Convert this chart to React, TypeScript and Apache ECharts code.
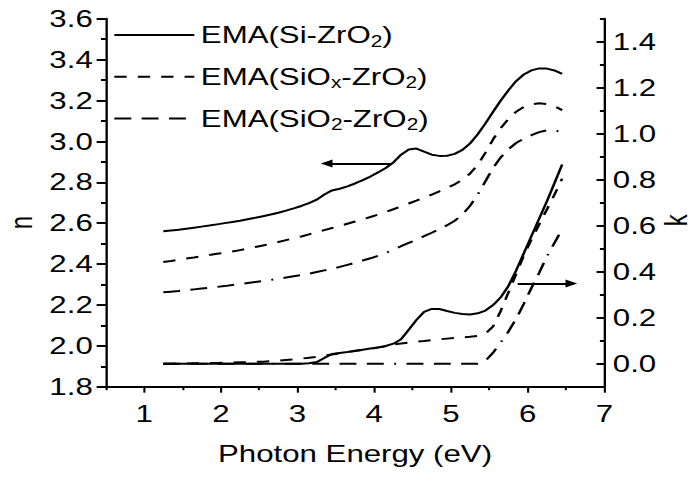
import React, { useEffect, useRef } from "react";
import * as echarts from "echarts";

// ---- data ----
const energy = [
  1.25, 1.35, 1.45, 1.55, 1.65, 1.75, 1.85, 1.95, 2.05, 2.15,
  2.25, 2.35, 2.45, 2.55, 2.65, 2.75, 2.85, 2.95, 3.05, 3.15,
  3.25, 3.35, 3.45, 3.55, 3.65, 3.75, 3.85, 3.95, 4.05, 4.15,
  4.25, 4.35, 4.45, 4.55, 4.65, 4.75, 4.85, 4.95, 5.05, 5.15,
  5.25, 5.35, 5.45, 5.55, 5.65, 5.75, 5.85, 5.95, 6.05, 6.15,
  6.25, 6.35, 6.45,
];

const nSi = [
  2.560, 2.564, 2.568, 2.573, 2.578, 2.583, 2.588, 2.594, 2.600, 2.606,
  2.612, 2.619, 2.626, 2.634, 2.642, 2.651, 2.661, 2.672, 2.684, 2.698,
  2.715, 2.740, 2.760, 2.768, 2.780, 2.794, 2.810, 2.828, 2.848, 2.870,
  2.897, 2.935, 2.960, 2.965, 2.950, 2.935, 2.929, 2.930, 2.939, 2.958,
  2.990, 3.035, 3.088, 3.145, 3.200, 3.250, 3.295, 3.327, 3.347, 3.357,
  3.356, 3.347, 3.330,
];

const nSiOx = [
  2.410, 2.415, 2.421, 2.427, 2.432, 2.438, 2.444, 2.450, 2.455, 2.461,
  2.468, 2.475, 2.483, 2.491, 2.499, 2.508, 2.517, 2.526, 2.535, 2.545,
  2.556, 2.566, 2.576, 2.586, 2.597, 2.608, 2.619, 2.630, 2.642, 2.655,
  2.668, 2.682, 2.696, 2.710, 2.725, 2.740, 2.756, 2.772, 2.790, 2.812,
  2.843, 2.885, 2.945, 3.010, 3.065, 3.110, 3.145, 3.168, 3.181, 3.186,
  3.183, 3.172, 3.153,
];

const nSiO2 = [
  2.262, 2.265, 2.268, 2.272, 2.276, 2.280, 2.284, 2.288, 2.292, 2.297,
  2.302, 2.307, 2.312, 2.317, 2.322, 2.328, 2.334, 2.340, 2.346, 2.353,
  2.361, 2.369, 2.377, 2.386, 2.396, 2.406, 2.417, 2.428, 2.440, 2.454,
  2.470, 2.487, 2.503, 2.519, 2.536, 2.553, 2.571, 2.590, 2.612, 2.642,
  2.685, 2.740, 2.805, 2.870, 2.922, 2.962, 2.992, 3.013, 3.030, 3.045,
  3.054, 3.053, 3.047,
];

const kSi = [
  0, 0, 0, 0, 0, 0, 0, 0, 0, 0,
  0, 0, 0, 0, 0, 0, 0, 0, 0, 0.002,
  0.007, 0.025, 0.042, 0.047, 0.051, 0.056, 0.061, 0.066, 0.071, 0.077,
  0.087, 0.106, 0.148, 0.190, 0.225, 0.238, 0.238, 0.229, 0.221, 0.216,
  0.214, 0.219, 0.231, 0.255, 0.289, 0.338, 0.405, 0.480, 0.555, 0.630,
  0.705, 0.785, 0.866,
];

const kSiOx = [
  0, 0, 0.001, 0.001, 0.002, 0.002, 0.003, 0.003, 0.004, 0.005,
  0.006, 0.007, 0.008, 0.009, 0.011, 0.013, 0.016, 0.019, 0.022, 0.026,
  0.030, 0.035, 0.040, 0.045, 0.050, 0.055, 0.060, 0.065, 0.070, 0.076,
  0.084, 0.088, 0.092, 0.096, 0.099, 0.103, 0.106, 0.109, 0.112, 0.114,
  0.117, 0.121, 0.130, 0.162, 0.230, 0.310, 0.390, 0.470, 0.540, 0.605,
  0.670, 0.735, 0.805,
];

const kSiO2 = [
  0, 0, 0, 0, 0, 0, 0, 0, 0, 0,
  0, 0, 0, 0, 0, 0, 0, 0, 0, 0,
  0, 0, 0, 0, 0, 0, 0, 0, 0, 0,
  0, 0, 0, 0, 0, 0, 0, 0, 0, 0,
  0, 0, 0.012, 0.048, 0.093, 0.140, 0.195, 0.260, 0.330, 0.395,
  0.465, 0.525, 0.585,
];

const legendNames = ["EMA(Si-ZrO2)", "EMA(SiOx-ZrO2)", "EMA(SiO2-ZrO2)"];

const xMajorTicks = [1, 2, 3, 4, 5, 6, 7];
const xMinorTicks = [0.5, 1.5, 2.5, 3.5, 4.5, 5.5, 6.5];
const kMajorTicks = [0, 0.2, 0.4, 0.6, 0.8, 1.0, 1.2, 1.4];
const kMinorTicks = [-0.1, 0.1, 0.3, 0.5, 0.7, 0.9, 1.1, 1.3, 1.5];

// annotation arrows: [from, to] in data coordinates
const nArrow = [[4.23, 2.892], [3.38, 2.892]];
const kArrow = [[5.87, 0.349], [6.57, 0.349]];

const FONT = "'Liberation Sans', Arial, Helvetica, sans-serif";
const CHART_W = 532;
const CHART_H = 481;
const STRETCH = 692 / CHART_W;

const pairs = (ys: number[]) => energy.map((e, i) => [e, ys[i]]);

const dashSiOx = [9.5, 8.5];
const dashSiO2 = [13, 8, 13, 8, 13, 8, 13, 8, 1.5, 8];

function arrowMarkLine(a: number[][]) {
  return {
    silent: true,
    symbol: ["none", "triangle"],
    symbolSize: [8, 9],
    label: { show: false },
    emphasis: { disabled: true },
    lineStyle: { color: "#000", width: 2, type: "solid" },
    data: [[{ coord: a[0] }, { coord: a[1] }]],
  };
}

export default function App() {
  const ref = useRef<HTMLDivElement>(null);

  useEffect(() => {
    if (!ref.current) return;
    const chart = echarts.init(ref.current, undefined, { renderer: "svg" });

    const tickLine = { color: "#000", width: 2 };

    const option: any = {
      animation: false,
      backgroundColor: "#fff",
      textStyle: { fontFamily: FONT, color: "#000" },
      grid: {
        left: 81.3,
        right: 67.4,
        top: 18.7,
        bottom: 94.3,
        containLabel: false,
        outerBoundsMode: "none",
      },
      legend: {
        data: legendNames,
        orient: "vertical",
        left: 86.9,
        top: 20,
        padding: 0,
        itemWidth: 61.5,
        itemHeight: 14,
        itemGap: 11.7,
        selectedMode: false,
        itemStyle: { opacity: 0 },
        formatter: (name: string) => name.replace(/O([x2])/g, "O{sub|$1}"),
        textStyle: {
          fontFamily: FONT,
          fontSize: 24,
          lineHeight: 30,
          color: "#000",
          rich: {
            sub: {
              fontFamily: FONT,
              fontSize: 16,
              padding: [12, 0, 0, 0],
              color: "#000",
            },
          },
        },
      },
      xAxis: [
        {
          type: "value",
          min: 0.5,
          max: 7,
          position: "bottom",
          name: "Photon Energy (eV)",
          nameLocation: "middle",
          nameGap: 55,
          nameMoveOverlap: false,
          nameTextStyle: { fontFamily: FONT, fontSize: 24, color: "#000" },
          axisLine: { show: true, onZero: false, lineStyle: { color: "#000", width: 2 } },
          axisTick: { show: true, inside: false, length: 6, customValues: xMajorTicks, lineStyle: { color: "#000", width: 1.6 } },
          axisLabel: { show: true, customValues: xMajorTicks, margin: 15, fontSize: 24, fontFamily: FONT, color: "#000" },
          splitLine: { show: false },
        },
        {
          type: "value",
          min: 0.5,
          max: 7,
          position: "bottom",
          axisLine: { show: false, onZero: false },
          axisTick: { show: true, inside: false, length: 3.5, customValues: xMinorTicks, lineStyle: { color: "#000", width: 1.6 } },
          axisLabel: { show: false },
          splitLine: { show: false },
        },
      ],
      yAxis: [
        {
          type: "value",
          min: 1.8,
          max: 3.6,
          interval: 0.2,
          position: "left",
          name: "n",
          nameLocation: "middle",
          nameGap: 53,
          nameMoveOverlap: false,
          nameTextStyle: { fontFamily: FONT, fontSize: 24, color: "#000", padding: [0, 40, 0, 0] },
          axisLine: { show: true, onZero: false, lineStyle: { color: "#000", width: 1.8 } },
          axisTick: { show: true, inside: false, length: 7, lineStyle: tickLine },
          minorTick: { show: true, splitNumber: 2, length: 3.7, lineStyle: tickLine },
          axisLabel: {
            margin: 10,
            fontSize: 24,
            fontFamily: FONT,
            color: "#000",
            formatter: (v: number) => v.toFixed(1),
          },
          splitLine: { show: false },
          minorSplitLine: { show: false },
        },
        {
          type: "value",
          min: -0.1,
          max: 1.5,
          position: "right",
          name: "k",
          nameLocation: "middle",
          nameGap: 43,
          nameMoveOverlap: false,
          nameTextStyle: { fontFamily: FONT, fontSize: 24, color: "#000", padding: [0, 35, 0, 0] },
          axisLine: { show: true, onZero: false, lineStyle: { color: "#000", width: 1.8 } },
          axisTick: { show: true, inside: true, length: 6, customValues: kMajorTicks, lineStyle: tickLine },
          axisLabel: {
            customValues: kMajorTicks,
            margin: 6.5,
            fontSize: 24,
            fontFamily: FONT,
            color: "#000",
            formatter: (v: number) => v.toFixed(1),
          },
          splitLine: { show: false },
        },
        {
          type: "value",
          min: -0.1,
          max: 1.5,
          position: "right",
          axisLine: { show: false, onZero: false },
          axisTick: { show: true, inside: true, length: 3.4, customValues: kMinorTicks, lineStyle: tickLine },
          axisLabel: { show: false },
          splitLine: { show: false },
        },
      ],
      series: [
        {
          type: "line",
          name: legendNames[0],
          xAxisIndex: 0,
          yAxisIndex: 0,
          data: pairs(nSi),
          symbol: "none",
          itemStyle: { color: "#000" },
          lineStyle: { color: "#000", width: 2, type: "solid" },
          markLine: arrowMarkLine(nArrow),
        },
        {
          type: "line",
          name: legendNames[1],
          xAxisIndex: 0,
          yAxisIndex: 0,
          data: pairs(nSiOx),
          symbol: "none",
          itemStyle: { color: "#000" },
          lineStyle: { color: "#000", width: 2, type: dashSiOx },
        },
        {
          type: "line",
          name: legendNames[2],
          xAxisIndex: 0,
          yAxisIndex: 0,
          data: pairs(nSiO2),
          symbol: "none",
          itemStyle: { color: "#000" },
          lineStyle: { color: "#000", width: 2, type: dashSiO2 },
        },
        {
          type: "line",
          name: legendNames[0],
          xAxisIndex: 0,
          yAxisIndex: 1,
          data: pairs(kSi),
          symbol: "none",
          itemStyle: { color: "#000" },
          lineStyle: { color: "#000", width: 2, type: "solid" },
          markLine: arrowMarkLine(kArrow),
        },
        {
          type: "line",
          name: legendNames[1],
          xAxisIndex: 0,
          yAxisIndex: 1,
          data: pairs(kSiOx),
          symbol: "none",
          itemStyle: { color: "#000" },
          lineStyle: { color: "#000", width: 2, type: dashSiOx },
        },
        {
          type: "line",
          name: legendNames[2],
          xAxisIndex: 0,
          yAxisIndex: 1,
          data: pairs(kSiO2),
          symbol: "none",
          itemStyle: { color: "#000" },
          lineStyle: { color: "#000", width: 2, type: dashSiO2 },
        },
      ],
    };

    chart.setOption(option);
    return () => chart.dispose();
  }, []);

  return (
    <div
      style={{
        position: "absolute",
        left: 0,
        top: 0,
        width: 692,
        height: CHART_H,
        overflow: "hidden",
        background: "#fff",
      }}
    >
      <div
        ref={ref}
        style={{
          width: CHART_W,
          height: CHART_H,
          transform: `scaleX(${STRETCH})`,
          transformOrigin: "0 0",
        }}
      />
    </div>
  );
}
